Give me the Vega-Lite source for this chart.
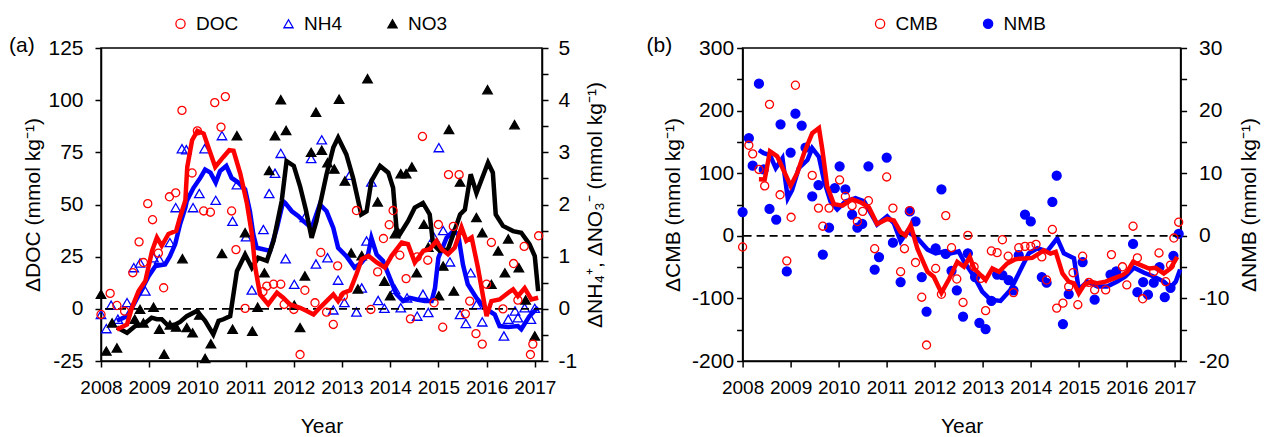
{
 "$schema": "https://vega.github.io/schema/vega-lite/v6.json",
 "background": "white",
 "padding": {"left": 8, "top": 13, "right": 5, "bottom": 5},
 "config": {
  "font": "Liberation Sans",
  "view": {"stroke": "black", "strokeWidth": 1.5},
  "axis": {"grid": false, "domainColor": "black", "domainWidth": 1.5, "tickColor": "black", "tickWidth": 1.5, "tickSize": 6, "labelColor": "black", "titleColor": "black", "labelFont": "Liberation Sans", "titleFont": "Liberation Sans", "titleFontWeight": "normal", "labelFontSize": 21, "titleFontSize": 21, "labelFlush": false, "labelOverlap": false},
  "axisX": {"labelFontSize": 19},
  "legend": {"labelFont": "Liberation Sans", "labelFontSize": 19, "labelColor": "black"},
  "title": {"font": "Liberation Sans", "fontWeight": "normal", "fontSize": 21, "color": "black"}
 },
 "datasets": {
  "docP": [
   {"s":"DOC","t":2008.00,"v":-2.7},{"s":"DOC","t":2008.19,"v":7.4},{"s":"DOC","t":2008.33,"v":1.6},{"s":"DOC","t":2008.49,"v":-1.1},{"s":"DOC","t":2008.66,"v":17.3},{"s":"DOC","t":2008.79,"v":32.1},{"s":"DOC","t":2008.88,"v":22.2},{"s":"DOC","t":2008.97,"v":50.4},{"s":"DOC","t":2009.07,"v":42.7},{"s":"DOC","t":2009.19,"v":26.7},{"s":"DOC","t":2009.30,"v":10.1},{"s":"DOC","t":2009.42,"v":53.7},{"s":"DOC","t":2009.55,"v":55.6},{"s":"DOC","t":2009.68,"v":95.1},{"s":"DOC","t":2009.89,"v":65.1},{"s":"DOC","t":2010.00,"v":85.3},{"s":"DOC","t":2010.13,"v":46.9},{"s":"DOC","t":2010.27,"v":46.3},{"s":"DOC","t":2010.36,"v":98.8},{"s":"DOC","t":2010.49,"v":87.1},{"s":"DOC","t":2010.58,"v":101.7},{"s":"DOC","t":2010.71,"v":46.9},{"s":"DOC","t":2010.80,"v":28.4},{"s":"DOC","t":2010.99,"v":0.2},{"s":"DOC","t":2011.36,"v":8.2},{"s":"DOC","t":2011.44,"v":10.9},{"s":"DOC","t":2011.58,"v":11.8},{"s":"DOC","t":2011.73,"v":11.8},{"s":"DOC","t":2011.80,"v":2.1},{"s":"DOC","t":2012.00,"v":-0.3},{"s":"DOC","t":2012.13,"v":-21.9},{"s":"DOC","t":2012.23,"v":8.9},{"s":"DOC","t":2012.44,"v":2.9},{"s":"DOC","t":2012.56,"v":27.0},{"s":"DOC","t":2012.68,"v":-1.6},{"s":"DOC","t":2012.82,"v":-7.5},{"s":"DOC","t":2012.91,"v":20.6},{"s":"DOC","t":2013.03,"v":6.1},{"s":"DOC","t":2013.30,"v":47.1},{"s":"DOC","t":2013.60,"v":-0.3},{"s":"DOC","t":2013.74,"v":17.7},{"s":"DOC","t":2013.86,"v":33.7},{"s":"DOC","t":2013.98,"v":40.3},{"s":"DOC","t":2014.06,"v":47.1},{"s":"DOC","t":2014.20,"v":25.7},{"s":"DOC","t":2014.33,"v":14.5},{"s":"DOC","t":2014.42,"v":-4.8},{"s":"DOC","t":2014.56,"v":24.9},{"s":"DOC","t":2014.67,"v":82.6},{"s":"DOC","t":2014.78,"v":23.3},{"s":"DOC","t":2014.91,"v":2.9},{"s":"DOC","t":2015.00,"v":40.4},{"s":"DOC","t":2015.09,"v":-8.8},{"s":"DOC","t":2015.21,"v":64.3},{"s":"DOC","t":2015.31,"v":39.5},{"s":"DOC","t":2015.43,"v":64.3},{"s":"DOC","t":2015.56,"v":-2.4},{"s":"DOC","t":2015.65,"v":3.7},{"s":"DOC","t":2015.78,"v":-11.9},{"s":"DOC","t":2015.91,"v":-16.9},{"s":"DOC","t":2016.00,"v":11.8},{"s":"DOC","t":2016.10,"v":31.8},{"s":"DOC","t":2016.34,"v":0.0},{"s":"DOC","t":2016.56,"v":21.7},{"s":"DOC","t":2016.65,"v":4.2},{"s":"DOC","t":2016.78,"v":29.9},{"s":"DOC","t":2016.91,"v":-21.9},{"s":"DOC","t":2016.96,"v":-16.9},{"s":"DOC","t":2017.08,"v":35.0}
  ],
  "docL": [
   {"t":2008.33,"v":-9.9},{"t":2008.54,"v":-7.5},{"t":2008.64,"v":0.5},{"t":2008.78,"v":8.5},{"t":2008.92,"v":13.4},{"t":2009.06,"v":27.8},{"t":2009.16,"v":34.2},{"t":2009.26,"v":30.2},{"t":2009.40,"v":35.9},{"t":2009.56,"v":37.4},{"t":2009.64,"v":43.9},{"t":2009.75,"v":51.9},{"t":2009.79,"v":68.0},{"t":2009.89,"v":80.8},{"t":2010.00,"v":85.3},{"t":2010.13,"v":84.0},{"t":2010.37,"v":68.0},{"t":2010.54,"v":72.8},{"t":2010.66,"v":76.0},{"t":2010.75,"v":75.7},{"t":2010.89,"v":64.8},{"t":2011.03,"v":50.3},{"t":2011.13,"v":35.9},{"t":2011.20,"v":19.8},{"t":2011.30,"v":6.9},{"t":2011.47,"v":2.1},{"t":2011.65,"v":7.7},{"t":2011.78,"v":5.3},{"t":2011.92,"v":2.1},{"t":2012.13,"v":0.5},{"t":2012.27,"v":-1.0},{"t":2012.41,"v":-2.7},{"t":2012.54,"v":0.5},{"t":2012.68,"v":3.7},{"t":2012.82,"v":6.9},{"t":2012.92,"v":3.7},{"t":2013.03,"v":7.7},{"t":2013.17,"v":8.9},{"t":2013.30,"v":16.6},{"t":2013.41,"v":23.8},{"t":2013.55,"v":25.4},{"t":2013.72,"v":22.2},{"t":2013.89,"v":19.8},{"t":2014.03,"v":25.4},{"t":2014.24,"v":31.8},{"t":2014.37,"v":31.0},{"t":2014.51,"v":22.2},{"t":2014.69,"v":27.8},{"t":2014.82,"v":28.6},{"t":2014.96,"v":32.6},{"t":2015.07,"v":28.6},{"t":2015.20,"v":26.2},{"t":2015.34,"v":29.4},{"t":2015.48,"v":39.0},{"t":2015.58,"v":32.6},{"t":2015.69,"v":34.2},{"t":2015.82,"v":19.8},{"t":2016.00,"v":-3.5},{"t":2016.10,"v":3.7},{"t":2016.27,"v":4.5},{"t":2016.45,"v":7.7},{"t":2016.55,"v":9.3},{"t":2016.65,"v":6.1},{"t":2016.79,"v":9.9},{"t":2016.93,"v":4.5},{"t":2017.07,"v":5.3}
  ],
  "nP": [
   {"s":"NH4","t":2008.00,"v":-0.11},{"s":"NH4","t":2008.11,"v":-0.38},{"s":"NH4","t":2008.21,"v":0.07},{"s":"NH4","t":2008.35,"v":-0.20},{"s":"NH4","t":2008.54,"v":0.12},{"s":"NH4","t":2008.68,"v":0.79},{"s":"NH4","t":2008.81,"v":0.88},{"s":"NH4","t":2008.92,"v":0.34},{"s":"NH4","t":2009.09,"v":0.98},{"s":"NH4","t":2009.21,"v":0.95},{"s":"NH4","t":2009.43,"v":1.27},{"s":"NH4","t":2009.55,"v":1.94},{"s":"NH4","t":2009.68,"v":3.07},{"s":"NH4","t":2009.77,"v":3.05},{"s":"NH4","t":2009.91,"v":1.94},{"s":"NH4","t":2010.04,"v":2.21},{"s":"NH4","t":2010.15,"v":3.07},{"s":"NH4","t":2010.38,"v":2.08},{"s":"NH4","t":2010.51,"v":3.32},{"s":"NH4","t":2010.73,"v":1.68},{"s":"NH4","t":2010.82,"v":2.38},{"s":"NH4","t":2011.01,"v":1.38},{"s":"NH4","t":2011.13,"v":0.36},{"s":"NH4","t":2011.37,"v":1.52},{"s":"NH4","t":2011.49,"v":2.21},{"s":"NH4","t":2011.61,"v":2.60},{"s":"NH4","t":2011.73,"v":2.98},{"s":"NH4","t":2011.83,"v":0.96},{"s":"NH4","t":2012.01,"v":0.47},{"s":"NH4","t":2012.23,"v":1.75},{"s":"NH4","t":2012.36,"v":2.88},{"s":"NH4","t":2012.46,"v":0.86},{"s":"NH4","t":2012.58,"v":3.24},{"s":"NH4","t":2012.70,"v":0.98},{"s":"NH4","t":2012.82,"v":-0.02},{"s":"NH4","t":2012.92,"v":0.55},{"s":"NH4","t":2013.05,"v":0.12},{"s":"NH4","t":2013.16,"v":2.56},{"s":"NH4","t":2013.30,"v":-0.06},{"s":"NH4","t":2013.41,"v":0.40},{"s":"NH4","t":2013.51,"v":1.30},{"s":"NH4","t":2013.61,"v":2.43},{"s":"NH4","t":2013.75,"v":0.16},{"s":"NH4","t":2013.88,"v":0.01},{"s":"NH4","t":2014.10,"v":0.37},{"s":"NH4","t":2014.22,"v":0.02},{"s":"NH4","t":2014.35,"v":0.21},{"s":"NH4","t":2014.56,"v":-0.14},{"s":"NH4","t":2014.68,"v":0.28},{"s":"NH4","t":2014.79,"v":-0.07},{"s":"NH4","t":2014.91,"v":1.37},{"s":"NH4","t":2015.01,"v":3.09},{"s":"NH4","t":2015.10,"v":1.50},{"s":"NH4","t":2015.24,"v":0.90},{"s":"NH4","t":2015.45,"v":-0.11},{"s":"NH4","t":2015.57,"v":-0.28},{"s":"NH4","t":2015.67,"v":0.69},{"s":"NH4","t":2015.79,"v":0.08},{"s":"NH4","t":2015.91,"v":-0.25},{"s":"NH4","t":2016.36,"v":-0.52},{"s":"NH4","t":2016.45,"v":-0.20},{"s":"NH4","t":2016.59,"v":-0.04},{"s":"NH4","t":2016.65,"v":-0.17},{"s":"NH4","t":2016.79,"v":0.02},{"s":"NH4","t":2016.92,"v":-0.20},{"s":"NH4","t":2017.00,"v":0.01},
   {"s":"NO3","t":2008.00,"v":0.28},{"s":"NO3","t":2008.11,"v":-0.81},{"s":"NO3","t":2008.23,"v":-0.27},{"s":"NO3","t":2008.33,"v":-0.75},{"s":"NO3","t":2008.70,"v":-0.20},{"s":"NO3","t":2008.81,"v":-0.01},{"s":"NO3","t":2008.88,"v":-0.27},{"s":"NO3","t":2009.09,"v":0.03},{"s":"NO3","t":2009.21,"v":-0.39},{"s":"NO3","t":2009.31,"v":-0.87},{"s":"NO3","t":2009.43,"v":-0.31},{"s":"NO3","t":2009.56,"v":-0.35},{"s":"NO3","t":2009.69,"v":0.96},{"s":"NO3","t":2009.78,"v":-0.36},{"s":"NO3","t":2009.90,"v":-0.46},{"s":"NO3","t":2010.04,"v":-0.12},{"s":"NO3","t":2010.16,"v":-0.95},{"s":"NO3","t":2010.28,"v":-0.67},{"s":"NO3","t":2010.51,"v":1.06},{"s":"NO3","t":2010.73,"v":-0.39},{"s":"NO3","t":2010.82,"v":3.32},{"s":"NO3","t":2010.99,"v":1.46},{"s":"NO3","t":2011.14,"v":-0.43},{"s":"NO3","t":2011.25,"v":0.03},{"s":"NO3","t":2011.39,"v":0.69},{"s":"NO3","t":2011.49,"v":2.65},{"s":"NO3","t":2011.61,"v":3.32},{"s":"NO3","t":2011.73,"v":4.01},{"s":"NO3","t":2011.84,"v":3.42},{"s":"NO3","t":2012.01,"v":0.07},{"s":"NO3","t":2012.13,"v":-0.36},{"s":"NO3","t":2012.23,"v":0.63},{"s":"NO3","t":2012.36,"v":3.00},{"s":"NO3","t":2012.46,"v":3.77},{"s":"NO3","t":2012.58,"v":3.04},{"s":"NO3","t":2012.70,"v":2.80},{"s":"NO3","t":2012.84,"v":2.68},{"s":"NO3","t":2012.94,"v":4.02},{"s":"NO3","t":2013.06,"v":2.45},{"s":"NO3","t":2013.19,"v":1.07},{"s":"NO3","t":2013.33,"v":0.38},{"s":"NO3","t":2013.41,"v":1.02},{"s":"NO3","t":2013.53,"v":4.41},{"s":"NO3","t":2013.74,"v":2.05},{"s":"NO3","t":2013.88,"v":0.53},{"s":"NO3","t":2014.00,"v":0.25},{"s":"NO3","t":2014.10,"v":1.44},{"s":"NO3","t":2014.22,"v":2.59},{"s":"NO3","t":2014.33,"v":2.59},{"s":"NO3","t":2014.45,"v":2.72},{"s":"NO3","t":2014.55,"v":0.69},{"s":"NO3","t":2014.70,"v":1.62},{"s":"NO3","t":2014.79,"v":1.18},{"s":"NO3","t":2015.01,"v":0.25},{"s":"NO3","t":2015.10,"v":0.82},{"s":"NO3","t":2015.22,"v":3.44},{"s":"NO3","t":2015.32,"v":0.34},{"s":"NO3","t":2015.45,"v":2.43},{"s":"NO3","t":2015.79,"v":1.75},{"s":"NO3","t":2015.91,"v":1.46},{"s":"NO3","t":2016.02,"v":4.20},{"s":"NO3","t":2016.10,"v":0.47},{"s":"NO3","t":2016.24,"v":1.11},{"s":"NO3","t":2016.38,"v":0.69},{"s":"NO3","t":2016.45,"v":1.34},{"s":"NO3","t":2016.58,"v":3.53},{"s":"NO3","t":2016.67,"v":0.79},{"s":"NO3","t":2016.81,"v":0.17},{"s":"NO3","t":2017.00,"v":-0.52}
  ],
  "nL": [
   {"s":"NH4","t":2008.33,"v":-0.23},{"s":"NH4","t":2008.54,"v":-0.14},{"s":"NH4","t":2008.64,"v":0.02},{"s":"NH4","t":2008.81,"v":0.31},{"s":"NH4","t":2008.99,"v":0.63},{"s":"NH4","t":2009.13,"v":0.82},{"s":"NH4","t":2009.33,"v":0.85},{"s":"NH4","t":2009.43,"v":1.01},{"s":"NH4","t":2009.54,"v":1.24},{"s":"NH4","t":2009.64,"v":1.62},{"s":"NH4","t":2009.75,"v":1.94},{"s":"NH4","t":2009.78,"v":2.07},{"s":"NH4","t":2009.92,"v":2.32},{"s":"NH4","t":2010.06,"v":2.51},{"s":"NH4","t":2010.16,"v":2.67},{"s":"NH4","t":2010.27,"v":2.61},{"s":"NH4","t":2010.38,"v":2.42},{"s":"NH4","t":2010.47,"v":2.64},{"s":"NH4","t":2010.60,"v":2.74},{"s":"NH4","t":2010.71,"v":2.51},{"s":"NH4","t":2010.85,"v":2.42},{"s":"NH4","t":2010.99,"v":2.29},{"s":"NH4","t":2011.09,"v":1.87},{"s":"NH4","t":2011.16,"v":1.43},{"s":"NH4","t":2011.23,"v":1.17},{"s":"NH4","t":2011.51,"v":1.11},{"s":"NH4","t":2011.65,"v":1.55},{"s":"NH4","t":2011.78,"v":2.06},{"s":"NH4","t":2011.82,"v":2.03},{"s":"NH4","t":2011.96,"v":1.87},{"s":"NH4","t":2012.09,"v":1.78},{"s":"NH4","t":2012.20,"v":1.68},{"s":"NH4","t":2012.37,"v":1.55},{"s":"NH4","t":2012.54,"v":2.00},{"s":"NH4","t":2012.68,"v":1.87},{"s":"NH4","t":2012.82,"v":1.55},{"s":"NH4","t":2012.92,"v":1.17},{"s":"NH4","t":2013.09,"v":1.01},{"s":"NH4","t":2013.26,"v":0.79},{"s":"NH4","t":2013.40,"v":0.88},{"s":"NH4","t":2013.54,"v":1.04},{"s":"NH4","t":2013.61,"v":1.36},{"s":"NH4","t":2013.72,"v":1.04},{"s":"NH4","t":2013.85,"v":0.92},{"s":"NH4","t":2013.99,"v":0.60},{"s":"NH4","t":2014.13,"v":0.28},{"s":"NH4","t":2014.27,"v":0.15},{"s":"NH4","t":2014.41,"v":0.21},{"s":"NH4","t":2014.55,"v":0.18},{"s":"NH4","t":2014.72,"v":0.15},{"s":"NH4","t":2014.86,"v":0.15},{"s":"NH4","t":2014.93,"v":0.40},{"s":"NH4","t":2015.00,"v":0.98},{"s":"NH4","t":2015.17,"v":1.36},{"s":"NH4","t":2015.31,"v":1.49},{"s":"NH4","t":2015.41,"v":1.43},{"s":"NH4","t":2015.51,"v":0.85},{"s":"NH4","t":2015.61,"v":0.47},{"s":"NH4","t":2015.79,"v":0.21},{"s":"NH4","t":2015.96,"v":0.02},{"s":"NH4","t":2016.17,"v":-0.11},{"s":"NH4","t":2016.27,"v":-0.33},{"s":"NH4","t":2016.45,"v":-0.35},{"s":"NH4","t":2016.65,"v":-0.33},{"s":"NH4","t":2016.72,"v":-0.39},{"s":"NH4","t":2016.89,"v":-0.14},{"s":"NH4","t":2017.07,"v":0.03},
   {"s":"NO3","t":2008.33,"v":-0.36},{"s":"NO3","t":2008.54,"v":-0.46},{"s":"NO3","t":2008.71,"v":-0.33},{"s":"NO3","t":2008.88,"v":-0.30},{"s":"NO3","t":2009.05,"v":-0.17},{"s":"NO3","t":2009.16,"v":-0.20},{"s":"NO3","t":2009.26,"v":-0.20},{"s":"NO3","t":2009.40,"v":-0.33},{"s":"NO3","t":2009.54,"v":-0.30},{"s":"NO3","t":2009.64,"v":-0.25},{"s":"NO3","t":2009.78,"v":-0.14},{"s":"NO3","t":2009.99,"v":-0.04},{"s":"NO3","t":2010.16,"v":-0.23},{"s":"NO3","t":2010.33,"v":-0.49},{"s":"NO3","t":2010.44,"v":-0.23},{"s":"NO3","t":2010.54,"v":-0.20},{"s":"NO3","t":2010.68,"v":-0.14},{"s":"NO3","t":2010.82,"v":0.72},{"s":"NO3","t":2010.99,"v":1.04},{"s":"NO3","t":2011.13,"v":0.79},{"s":"NO3","t":2011.26,"v":0.98},{"s":"NO3","t":2011.44,"v":0.92},{"s":"NO3","t":2011.58,"v":1.30},{"s":"NO3","t":2011.75,"v":2.07},{"s":"NO3","t":2011.85,"v":2.83},{"s":"NO3","t":2012.00,"v":2.74},{"s":"NO3","t":2012.13,"v":2.35},{"s":"NO3","t":2012.25,"v":1.90},{"s":"NO3","t":2012.37,"v":1.36},{"s":"NO3","t":2012.47,"v":1.68},{"s":"NO3","t":2012.68,"v":2.58},{"s":"NO3","t":2012.82,"v":3.09},{"s":"NO3","t":2012.92,"v":3.28},{"s":"NO3","t":2013.09,"v":2.96},{"s":"NO3","t":2013.23,"v":2.51},{"s":"NO3","t":2013.40,"v":1.81},{"s":"NO3","t":2013.51,"v":1.87},{"s":"NO3","t":2013.61,"v":2.45},{"s":"NO3","t":2013.79,"v":2.74},{"s":"NO3","t":2013.96,"v":2.61},{"s":"NO3","t":2014.06,"v":2.32},{"s":"NO3","t":2014.13,"v":1.55},{"s":"NO3","t":2014.20,"v":1.43},{"s":"NO3","t":2014.37,"v":1.68},{"s":"NO3","t":2014.51,"v":1.94},{"s":"NO3","t":2014.68,"v":2.03},{"s":"NO3","t":2014.82,"v":1.81},{"s":"NO3","t":2014.89,"v":1.24},{"s":"NO3","t":2015.03,"v":1.11},{"s":"NO3","t":2015.20,"v":1.14},{"s":"NO3","t":2015.31,"v":1.43},{"s":"NO3","t":2015.45,"v":1.81},{"s":"NO3","t":2015.55,"v":1.90},{"s":"NO3","t":2015.67,"v":2.58},{"s":"NO3","t":2015.79,"v":2.22},{"s":"NO3","t":2016.03,"v":2.80},{"s":"NO3","t":2016.13,"v":2.61},{"s":"NO3","t":2016.19,"v":1.81},{"s":"NO3","t":2016.34,"v":1.59},{"s":"NO3","t":2016.55,"v":1.49},{"s":"NO3","t":2016.72,"v":1.46},{"s":"NO3","t":2016.89,"v":1.24},{"s":"NO3","t":2017.00,"v":1.01},{"s":"NO3","t":2017.07,"v":0.34}
  ],
  "cP": [
   {"s":"CMB","t":2008.00,"v":-17.9},{"s":"CMB","t":2008.13,"v":144.6},{"s":"CMB","t":2008.21,"v":130.9},{"s":"CMB","t":2008.34,"v":106},{"s":"CMB","t":2008.46,"v":79.7},{"s":"CMB","t":2008.56,"v":210},{"s":"CMB","t":2008.78,"v":65.5},{"s":"CMB","t":2008.92,"v":-40},{"s":"CMB","t":2009.01,"v":29.6},{"s":"CMB","t":2009.10,"v":240.5},{"s":"CMB","t":2009.45,"v":96.5},{"s":"CMB","t":2009.58,"v":44.3},{"s":"CMB","t":2009.67,"v":15.3},{"s":"CMB","t":2009.80,"v":44.3},{"s":"CMB","t":2010.02,"v":89.2},{"s":"CMB","t":2010.14,"v":62.8},{"s":"CMB","t":2010.28,"v":48.1},{"s":"CMB","t":2010.39,"v":22.8},{"s":"CMB","t":2010.50,"v":39.1},{"s":"CMB","t":2010.62,"v":56},{"s":"CMB","t":2010.75,"v":-20.6},{"s":"CMB","t":2011.00,"v":94},{"s":"CMB","t":2011.13,"v":44.3},{"s":"CMB","t":2011.29,"v":-57.4},{"s":"CMB","t":2011.37,"v":-20.6},{"s":"CMB","t":2011.48,"v":40.2},{"s":"CMB","t":2011.60,"v":-42.7},{"s":"CMB","t":2011.73,"v":-98.1},{"s":"CMB","t":2011.83,"v":-174.5},{"s":"CMB","t":2012.02,"v":-52.2},{"s":"CMB","t":2012.14,"v":-93.4},{"s":"CMB","t":2012.23,"v":32.3},{"s":"CMB","t":2012.35,"v":-19},{"s":"CMB","t":2012.46,"v":-69},{"s":"CMB","t":2012.59,"v":-106.5},{"s":"CMB","t":2012.69,"v":0.6},{"s":"CMB","t":2012.82,"v":-49.5},{"s":"CMB","t":2012.96,"v":-68},{"s":"CMB","t":2013.06,"v":-119.6},{"s":"CMB","t":2013.18,"v":-24.2},{"s":"CMB","t":2013.30,"v":-26.9},{"s":"CMB","t":2013.41,"v":-6.3},{"s":"CMB","t":2013.53,"v":-32.6},{"s":"CMB","t":2013.64,"v":-90.7},{"s":"CMB","t":2013.75,"v":-19},{"s":"CMB","t":2013.88,"v":-16.8},{"s":"CMB","t":2014.00,"v":-16.8},{"s":"CMB","t":2014.11,"v":-13.6},{"s":"CMB","t":2014.23,"v":-33.7},{"s":"CMB","t":2014.33,"v":-70.6},{"s":"CMB","t":2014.45,"v":10.1},{"s":"CMB","t":2014.54,"v":-115.5},{"s":"CMB","t":2014.67,"v":-107.6},{"s":"CMB","t":2014.79,"v":-81.2},{"s":"CMB","t":2014.88,"v":-59},{"s":"CMB","t":2014.98,"v":-110.1},{"s":"CMB","t":2015.08,"v":-32.6},{"s":"CMB","t":2015.21,"v":-74.4},{"s":"CMB","t":2015.33,"v":-86.4},{"s":"CMB","t":2015.56,"v":-86.4},{"s":"CMB","t":2015.68,"v":-30},{"s":"CMB","t":2015.91,"v":-49.5},{"s":"CMB","t":2016.00,"v":-78.5},{"s":"CMB","t":2016.13,"v":15.3},{"s":"CMB","t":2016.22,"v":-35.3},{"s":"CMB","t":2016.33,"v":-100.6},{"s":"CMB","t":2016.56,"v":-57.4},{"s":"CMB","t":2016.67,"v":-27.4},{"s":"CMB","t":2016.81,"v":-73.3},{"s":"CMB","t":2016.91,"v":-46.8},{"s":"CMB","t":2016.98,"v":-3.6},{"s":"CMB","t":2017.08,"v":21.7}
  ],
  "cL": [
   {"t":2008.34,"v":90.2},{"t":2008.46,"v":90},{"t":2008.57,"v":135},{"t":2008.72,"v":127},{"t":2008.86,"v":103.5},{"t":2009.00,"v":79.7},{"t":2009.14,"v":100.8},{"t":2009.28,"v":132.4},{"t":2009.45,"v":164},{"t":2009.59,"v":172},{"t":2009.66,"v":137.7},{"t":2009.76,"v":79.7},{"t":2009.90,"v":50.6},{"t":2010.08,"v":48.1},{"t":2010.28,"v":58.5},{"t":2010.46,"v":53.3},{"t":2010.63,"v":45.4},{"t":2010.80,"v":19},{"t":2011.01,"v":26.9},{"t":2011.15,"v":24.4},{"t":2011.29,"v":5.9},{"t":2011.39,"v":0.6},{"t":2011.50,"v":16.5},{"t":2011.64,"v":-20.6},{"t":2011.85,"v":-57.4},{"t":2011.98,"v":-65.3},{"t":2012.14,"v":-91},{"t":2012.30,"v":-69},{"t":2012.47,"v":-41.6},{"t":2012.61,"v":-49.5},{"t":2012.73,"v":-33.7},{"t":2012.82,"v":-52.2},{"t":2013.06,"v":-70.6},{"t":2013.20,"v":-52.2},{"t":2013.34,"v":-57.4},{"t":2013.51,"v":-44.3},{"t":2013.68,"v":-37.3},{"t":2013.86,"v":-36.4},{"t":2014.03,"v":-35.3},{"t":2014.17,"v":-28.5},{"t":2014.27,"v":-23.1},{"t":2014.41,"v":-28.5},{"t":2014.52,"v":-25.8},{"t":2014.66,"v":-60.1},{"t":2014.79,"v":-73.3},{"t":2014.90,"v":-75.9},{"t":2015.00,"v":-91.8},{"t":2015.11,"v":-78.5},{"t":2015.25,"v":-73.3},{"t":2015.39,"v":-75.9},{"t":2015.56,"v":-73.3},{"t":2015.73,"v":-68},{"t":2015.91,"v":-62.7},{"t":2016.01,"v":-57.4},{"t":2016.13,"v":-41.6},{"t":2016.29,"v":-46.8},{"t":2016.46,"v":-52.2},{"t":2016.60,"v":-51.1},{"t":2016.77,"v":-60.1},{"t":2016.91,"v":-52.2},{"t":2017.05,"v":-33.7}
  ],
  "mP": [
   {"s":"NMB","t":2008.00,"v":3.8},{"s":"NMB","t":2008.13,"v":15.6},{"s":"NMB","t":2008.21,"v":11.2},{"s":"NMB","t":2008.34,"v":24.3},{"s":"NMB","t":2008.44,"v":10.6},{"s":"NMB","t":2008.56,"v":4.3},{"s":"NMB","t":2008.70,"v":2.6},{"s":"NMB","t":2008.79,"v":17.8},{"s":"NMB","t":2008.92,"v":-5.7},{"s":"NMB","t":2009.00,"v":13.3},{"s":"NMB","t":2009.10,"v":19.5},{"s":"NMB","t":2009.23,"v":17.6},{"s":"NMB","t":2009.31,"v":14.1},{"s":"NMB","t":2009.45,"v":6.3},{"s":"NMB","t":2009.58,"v":8.1},{"s":"NMB","t":2009.67,"v":-3.0},{"s":"NMB","t":2009.80,"v":1.3},{"s":"NMB","t":2009.92,"v":7.6},{"s":"NMB","t":2010.02,"v":11.1},{"s":"NMB","t":2010.14,"v":7.4},{"s":"NMB","t":2010.28,"v":3.4},{"s":"NMB","t":2010.39,"v":1.3},{"s":"NMB","t":2010.49,"v":1.9},{"s":"NMB","t":2010.62,"v":11.1},{"s":"NMB","t":2010.75,"v":-5.4},{"s":"NMB","t":2010.84,"v":-3.4},{"s":"NMB","t":2011.00,"v":12.5},{"s":"NMB","t":2011.13,"v":-1.1},{"s":"NMB","t":2011.29,"v":-7.4},{"s":"NMB","t":2011.48,"v":3.9},{"s":"NMB","t":2011.60,"v":2.3},{"s":"NMB","t":2011.73,"v":-6.6},{"s":"NMB","t":2011.83,"v":-12.1},{"s":"NMB","t":2012.02,"v":-2.0},{"s":"NMB","t":2012.14,"v":7.4},{"s":"NMB","t":2012.23,"v":-2.9},{"s":"NMB","t":2012.35,"v":-5.6},{"s":"NMB","t":2012.46,"v":-8.7},{"s":"NMB","t":2012.59,"v":-12.9},{"s":"NMB","t":2012.69,"v":-2.8},{"s":"NMB","t":2012.84,"v":-6.6},{"s":"NMB","t":2012.93,"v":-13.9},{"s":"NMB","t":2013.06,"v":-14.9},{"s":"NMB","t":2013.18,"v":-10.4},{"s":"NMB","t":2013.30,"v":-6.2},{"s":"NMB","t":2013.41,"v":-6.3},{"s":"NMB","t":2013.54,"v":-7.1},{"s":"NMB","t":2013.64,"v":-8.7},{"s":"NMB","t":2013.75,"v":-3.1},{"s":"NMB","t":2013.88,"v":3.4},{"s":"NMB","t":2014.00,"v":2.3},{"s":"NMB","t":2014.23,"v":-6.6},{"s":"NMB","t":2014.33,"v":-7.5},{"s":"NMB","t":2014.45,"v":5.4},{"s":"NMB","t":2014.54,"v":9.6},{"s":"NMB","t":2014.67,"v":-14.1},{"s":"NMB","t":2014.79,"v":-9.3},{"s":"NMB","t":2015.08,"v":-4.2},{"s":"NMB","t":2015.33,"v":-10.2},{"s":"NMB","t":2015.66,"v":-6.2},{"s":"NMB","t":2015.78,"v":-5.7},{"s":"NMB","t":2016.13,"v":-1.3},{"s":"NMB","t":2016.22,"v":-9.0},{"s":"NMB","t":2016.34,"v":-7.4},{"s":"NMB","t":2016.44,"v":-9.4},{"s":"NMB","t":2016.56,"v":-7.5},{"s":"NMB","t":2016.68,"v":-5.0},{"s":"NMB","t":2016.79,"v":-9.8},{"s":"NMB","t":2016.91,"v":-8.3},{"s":"NMB","t":2016.97,"v":-3.2},{"s":"NMB","t":2017.08,"v":0.3}
  ],
  "mL": [
   {"t":2008.34,"v":13.7},{"t":2008.44,"v":13.2},{"t":2008.57,"v":12.9},{"t":2008.69,"v":10.8},{"t":2008.83,"v":12.4},{"t":2008.94,"v":6.0},{"t":2009.03,"v":7.3},{"t":2009.17,"v":10.8},{"t":2009.35,"v":12.1},{"t":2009.45,"v":14.0},{"t":2009.59,"v":12.6},{"t":2009.70,"v":8.7},{"t":2009.83,"v":5.5},{"t":2009.97,"v":4.2},{"t":2010.14,"v":5.5},{"t":2010.35,"v":6.0},{"t":2010.53,"v":5.5},{"t":2010.73,"v":2.8},{"t":2010.80,"v":1.8},{"t":2011.01,"v":3.1},{"t":2011.15,"v":2.0},{"t":2011.29,"v":-0.9},{"t":2011.43,"v":0.7},{"t":2011.64,"v":-0.4},{"t":2011.85,"v":-2.2},{"t":2012.02,"v":-2.8},{"t":2012.19,"v":-2.5},{"t":2012.33,"v":-2.8},{"t":2012.50,"v":-2.5},{"t":2012.61,"v":-4.1},{"t":2012.82,"v":-6.5},{"t":2012.99,"v":-8.9},{"t":2013.16,"v":-10.2},{"t":2013.37,"v":-10.4},{"t":2013.58,"v":-8.6},{"t":2013.79,"v":-5.4},{"t":2013.96,"v":-2.8},{"t":2014.14,"v":-2.0},{"t":2014.34,"v":-2.5},{"t":2014.55,"v":-0.4},{"t":2014.69,"v":-2.8},{"t":2014.90,"v":-3.6},{"t":2015.00,"v":-8.6},{"t":2015.18,"v":-7.3},{"t":2015.39,"v":-8.1},{"t":2015.59,"v":-8.1},{"t":2015.80,"v":-7.3},{"t":2015.97,"v":-6.5},{"t":2016.15,"v":-5.1},{"t":2016.36,"v":-5.9},{"t":2016.56,"v":-6.5},{"t":2016.77,"v":-7.3},{"t":2016.91,"v":-8.3},{"t":2017.02,"v":-7.3},{"t":2017.11,"v":-5.4}
  ]
 },
 "bounds": "flush",
 "spacing": 200.6,
 "resolve": {"scale": {"x": "independent", "y": "independent", "color": "independent", "shape": "independent", "fill": "independent"}, "legend": {"color": "independent", "shape": "independent", "fill": "independent"}},
 "hconcat": [
  {
   "width": 441, "height": 313,
   "title": {"text": "(a)", "anchor": "start", "frame": "group", "offset": 0, "dx": -92, "dy": 42},
   "resolve": {"scale": {"y": "independent"}},
   "layer": [
    {
     "encoding": {"y": {"field": "v", "type": "quantitative", "scale": {"domain": [-1, 5], "nice": false, "zero": false}, "axis": {"orient": "right", "title": "ΔNH₄⁺, ΔNO₃⁻ (mmol kg⁻¹)", "values": [-1,-0.5,0,0.5,1,1.5,2,2.5,3,3.5,4,4.5,5], "labelExpr": "datum.value % 1 === 0 ? '' + datum.value : ''", "labelPadding": 10, "titlePadding": 8, "titleAngle": 270, "titleBaseline": "top"}}},
     "layer": [
      {"data": {"name": "nP"}, "mark": {"type": "point", "filled": false, "opacity": 1, "size": 90, "strokeWidth": 1.3},
       "encoding": {
        "x": {"field": "t", "type": "quantitative", "scale": {"domain": [2008, 2017.15], "nice": false, "zero": false}, "axis": {"title": "Year", "values": [2008,2009,2010,2011,2012,2013,2014,2015,2016,2017], "labelExpr": "'' + datum.value", "labelPadding": 11, "titlePadding": 18}},
        "color": {"field": "s", "type": "nominal", "scale": {"domain": ["DOC","NH4","NO3"], "range": ["#ff0000","#0000ff","#000000"]}, "legend": {"title": null, "orient": "none", "legendX": 70, "legendY": -34, "direction": "horizontal", "symbolSize": 85, "symbolStrokeWidth": 1.3, "columnPadding": 40, "labelOffset": 6}},
        "shape": {"field": "s", "type": "nominal", "scale": {"domain": ["DOC","NH4","NO3"], "range": ["circle","triangle-up","triangle-up"]}, "legend": {"title": null, "orient": "none", "legendX": 70, "legendY": -34, "direction": "horizontal", "symbolSize": 85, "symbolStrokeWidth": 1.3, "columnPadding": 40, "labelOffset": 6}},
        "fill": {"field": "s", "type": "nominal", "scale": {"domain": ["DOC","NH4","NO3"], "range": ["transparent","transparent","#000000"]}, "legend": {"title": null, "orient": "none", "legendX": 70, "legendY": -34, "direction": "horizontal", "symbolSize": 85, "symbolStrokeWidth": 1.3, "columnPadding": 40, "labelOffset": 6}}
       }},
      {"data": {"name": "nL"}, "mark": {"type": "line", "strokeWidth": 4.5},
       "encoding": {
        "x": {"field": "t", "type": "quantitative", "scale": {"domain": [2008, 2017.15], "nice": false, "zero": false}, "axis": {"title": "Year", "values": [2008,2009,2010,2011,2012,2013,2014,2015,2016,2017], "labelExpr": "'' + datum.value", "labelPadding": 11, "titlePadding": 18}},
        "color": {"field": "s", "type": "nominal", "scale": {"domain": ["DOC","NH4","NO3"], "range": ["#ff0000","#0000ff","#000000"]}, "legend": null}
       }}
     ]
    },
    {
     "encoding": {"y": {"field": "v", "type": "quantitative", "scale": {"domain": [-25, 125], "nice": false, "zero": false}, "axis": {"orient": "left", "title": "ΔDOC (mmol kg⁻¹)", "values": [-25,0,25,50,75,100,125], "labelExpr": "'' + datum.value", "labelPadding": 12, "titlePadding": 4}}},
     "layer": [
      {"data": {"values": [{"v": 0}]}, "mark": {"type": "rule", "color": "black", "strokeWidth": 1.8, "strokeDash": [8, 5]}},
      {"data": {"name": "docP"}, "mark": {"type": "point", "filled": false, "opacity": 1, "size": 65, "strokeWidth": 1.3},
       "encoding": {
        "x": {"field": "t", "type": "quantitative", "scale": {"domain": [2008, 2017.15], "nice": false, "zero": false}, "axis": {"title": "Year", "values": [2008,2009,2010,2011,2012,2013,2014,2015,2016,2017], "labelExpr": "'' + datum.value", "labelPadding": 11, "titlePadding": 18}},
        "color": {"field": "s", "type": "nominal", "scale": {"domain": ["DOC","NH4","NO3"], "range": ["#ff0000","#0000ff","#000000"]}, "legend": {"title": null, "orient": "none", "legendX": 70, "legendY": -34, "direction": "horizontal", "symbolSize": 85, "symbolStrokeWidth": 1.3, "columnPadding": 40, "labelOffset": 6}},
        "shape": {"field": "s", "type": "nominal", "scale": {"domain": ["DOC","NH4","NO3"], "range": ["circle","triangle-up","triangle-up"]}, "legend": {"title": null, "orient": "none", "legendX": 70, "legendY": -34, "direction": "horizontal", "symbolSize": 85, "symbolStrokeWidth": 1.3, "columnPadding": 40, "labelOffset": 6}},
        "fill": {"field": "s", "type": "nominal", "scale": {"domain": ["DOC","NH4","NO3"], "range": ["transparent","transparent","#000000"]}, "legend": {"title": null, "orient": "none", "legendX": 70, "legendY": -34, "direction": "horizontal", "symbolSize": 85, "symbolStrokeWidth": 1.3, "columnPadding": 40, "labelOffset": 6}}
       }},
      {"data": {"name": "docL"}, "mark": {"type": "line", "color": "#ff0000", "strokeWidth": 4.5},
       "encoding": {
        "x": {"field": "t", "type": "quantitative", "scale": {"domain": [2008, 2017.15], "nice": false, "zero": false}, "axis": {"title": "Year", "values": [2008,2009,2010,2011,2012,2013,2014,2015,2016,2017], "labelExpr": "'' + datum.value", "labelPadding": 11, "titlePadding": 18}}
       }}
     ]
    }
   ]
  },
  {
   "width": 438, "height": 313,
   "title": {"text": "(b)", "anchor": "start", "frame": "group", "offset": 0, "dx": -96, "dy": 42},
   "resolve": {"scale": {"y": "independent"}},
   "layer": [
    {
     "encoding": {"y": {"field": "v", "type": "quantitative", "scale": {"domain": [-20, 30], "nice": false, "zero": false}, "axis": {"orient": "right", "title": "ΔNMB (mmol kg⁻¹)", "values": [-20,-15,-10,-5,0,5,10,15,20,25,30], "labelExpr": "datum.value % 10 === 0 ? '' + datum.value : ''", "labelPadding": 12, "titlePadding": 10, "titleAngle": 270, "titleBaseline": "top"}}},
     "layer": [
      {"data": {"name": "mP"}, "mark": {"type": "point", "filled": false, "opacity": 1, "size": 80, "strokeWidth": 1.3},
       "encoding": {
        "x": {"field": "t", "type": "quantitative", "scale": {"domain": [2008, 2017.12], "nice": false, "zero": false}, "axis": {"title": "Year", "values": [2008,2009,2010,2011,2012,2013,2014,2015,2016,2017], "labelExpr": "'' + datum.value", "labelPadding": 11, "titlePadding": 18}},
        "color": {"field": "s", "type": "nominal", "scale": {"domain": ["CMB","NMB"], "range": ["#ff0000","#0000ff"]}, "legend": {"title": null, "orient": "none", "legendX": 128, "legendY": -34, "direction": "horizontal", "symbolSize": 85, "symbolStrokeWidth": 1.3, "columnPadding": 40, "labelOffset": 6}},
        "shape": {"field": "s", "type": "nominal", "scale": {"domain": ["CMB","NMB"], "range": ["circle","circle"]}, "legend": {"title": null, "orient": "none", "legendX": 128, "legendY": -34, "direction": "horizontal", "symbolSize": 85, "symbolStrokeWidth": 1.3, "columnPadding": 40, "labelOffset": 6}},
        "fill": {"field": "s", "type": "nominal", "scale": {"domain": ["CMB","NMB"], "range": ["transparent","#0000ff"]}, "legend": {"title": null, "orient": "none", "legendX": 128, "legendY": -34, "direction": "horizontal", "symbolSize": 85, "symbolStrokeWidth": 1.3, "columnPadding": 40, "labelOffset": 6}}
       }},
      {"data": {"name": "mL"}, "mark": {"type": "line", "color": "#0000ff", "strokeWidth": 4.5},
       "encoding": {
        "x": {"field": "t", "type": "quantitative", "scale": {"domain": [2008, 2017.12], "nice": false, "zero": false}, "axis": {"title": "Year", "values": [2008,2009,2010,2011,2012,2013,2014,2015,2016,2017], "labelExpr": "'' + datum.value", "labelPadding": 11, "titlePadding": 18}}
       }}
     ]
    },
    {
     "encoding": {"y": {"field": "v", "type": "quantitative", "scale": {"domain": [-200, 300], "nice": false, "zero": false}, "axis": {"orient": "left", "title": "ΔCMB (mmol kg⁻¹)", "values": [-200,-150,-100,-50,0,50,100,150,200,250,300], "labelExpr": "datum.value % 100 === 0 ? '' + datum.value : ''", "labelPadding": 3, "titlePadding": 8}}},
     "layer": [
      {"data": {"values": [{"v": 0}]}, "mark": {"type": "rule", "color": "black", "strokeWidth": 1.8, "strokeDash": [8, 5]}},
      {"data": {"name": "cP"}, "mark": {"type": "point", "filled": false, "opacity": 1, "size": 65, "strokeWidth": 1.3},
       "encoding": {
        "x": {"field": "t", "type": "quantitative", "scale": {"domain": [2008, 2017.12], "nice": false, "zero": false}, "axis": {"title": "Year", "values": [2008,2009,2010,2011,2012,2013,2014,2015,2016,2017], "labelExpr": "'' + datum.value", "labelPadding": 11, "titlePadding": 18}},
        "color": {"field": "s", "type": "nominal", "scale": {"domain": ["CMB","NMB"], "range": ["#ff0000","#0000ff"]}, "legend": {"title": null, "orient": "none", "legendX": 128, "legendY": -34, "direction": "horizontal", "symbolSize": 85, "symbolStrokeWidth": 1.3, "columnPadding": 40, "labelOffset": 6}},
        "shape": {"field": "s", "type": "nominal", "scale": {"domain": ["CMB","NMB"], "range": ["circle","circle"]}, "legend": {"title": null, "orient": "none", "legendX": 128, "legendY": -34, "direction": "horizontal", "symbolSize": 85, "symbolStrokeWidth": 1.3, "columnPadding": 40, "labelOffset": 6}},
        "fill": {"field": "s", "type": "nominal", "scale": {"domain": ["CMB","NMB"], "range": ["transparent","#0000ff"]}, "legend": {"title": null, "orient": "none", "legendX": 128, "legendY": -34, "direction": "horizontal", "symbolSize": 85, "symbolStrokeWidth": 1.3, "columnPadding": 40, "labelOffset": 6}}
       }},
      {"data": {"name": "cL"}, "mark": {"type": "line", "color": "#ff0000", "strokeWidth": 4.5},
       "encoding": {
        "x": {"field": "t", "type": "quantitative", "scale": {"domain": [2008, 2017.12], "nice": false, "zero": false}, "axis": {"title": "Year", "values": [2008,2009,2010,2011,2012,2013,2014,2015,2016,2017], "labelExpr": "'' + datum.value", "labelPadding": 11, "titlePadding": 18}}
       }}
     ]
    }
   ]
  }
 ]
}
